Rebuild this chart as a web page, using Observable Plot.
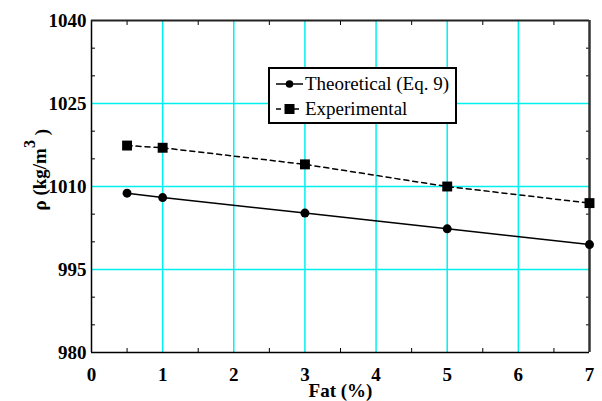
<!DOCTYPE html>
<html><head><meta charset="utf-8">
<script src="https://cdn.jsdelivr.net/npm/d3@7"></script>
<script src="https://cdn.jsdelivr.net/npm/@observablehq/plot@0.6"></script>
<style>
body{margin:0;background:#fff;font-family:"Liberation Serif","Times New Roman",serif;}
#wrap{position:relative;width:602px;height:401px;font-family:"Liberation Serif","Times New Roman",serif;}
#legend{position:absolute;left:268px;top:67px;width:185px;height:53px;border:2px solid #000;background:#fff;font-family:"Liberation Serif","Times New Roman",serif;font-size:19px;line-height:25px;padding:0;color:#000;}
#legend .row{display:flex;align-items:center;height:25px;}
#legend svg{margin-left:6px;margin-right:2px;}
</style></head>
<body><div id="wrap"></div>
<script>
const fat = [0.5, 1, 3, 5, 7];
const theoretical = [1008.8, 1008.0, 1005.2, 1002.35, 999.5];
const experimental = [1017.4, 1017.0, 1014.0, 1010.0, 1007.0];
const xTicks = [0, 1, 2, 3, 4, 5, 6, 7];
const yTicks = [980, 995, 1010, 1025, 1040];
const xMinor = [0.5, 1.5, 2.5, 3.5, 4.5, 5.5, 6.5];
const yMinor = [985, 990, 1000, 1005, 1015, 1020, 1030, 1035];
const seriesNames = ["Theoretical (Eq. 9)", "Experimental"];

const theo = fat.map((x, i) => ({x, y: theoretical[i]}));
const expe = fat.map((x, i) => ({x, y: experimental[i]}));
const grid = "#00f0f0";
const font = "Liberation Serif";

function draw() {
  const chart = Plot.plot({
    width: 602, height: 401,
    marginLeft: 91, marginRight: 13, marginTop: 20, marginBottom: 49,
    style: {fontFamily: font, background: "#fff", overflow: "visible"},
    x: {domain: [0, 7]},
    y: {domain: [980, 1040]},
    marks: [
      Plot.gridX(xTicks.slice(1, -1), {stroke: grid, strokeOpacity: 1, strokeWidth: 1.5}),
      Plot.gridY(yTicks.slice(1, -1), {stroke: grid, strokeOpacity: 1, strokeWidth: 1.5}),
      Plot.axisY(yMinor, {anchor: "left", tickSize: -4, text: null, label: null, stroke: "#000"}),
      Plot.axisY(yMinor, {anchor: "right", tickSize: -4, text: null, label: null, stroke: "#000"}),
      Plot.axisX(xMinor, {anchor: "bottom", tickSize: -4, text: null, label: null, stroke: "#000"}),
      Plot.axisX(xMinor, {anchor: "top", tickSize: -4, text: null, label: null, stroke: "#000"}),
      Plot.axisY(yTicks, {anchor: "left", tickSize: 0, tickPadding: 5, label: null, tickFormat: d => String(d), fontSize: 19, fontWeight: "bold", fill: "#000"}),
      Plot.axisX(xTicks, {anchor: "bottom", tickSize: 0, tickPadding: 15, label: null, tickFormat: d => String(d), fontSize: 19, fontWeight: "bold", fill: "#000"}),
      Plot.ruleX([0], {stroke: "#000", strokeWidth: 1.5}),
      Plot.ruleY([980], {stroke: "#000", strokeWidth: 1.5}),
      Plot.ruleY([1040], {stroke: "#222", strokeWidth: 2}),
      Plot.ruleX([7], {stroke: "#333", strokeWidth: 2.5}),
      Plot.line(theo, {x: "x", y: "y", stroke: "#000", strokeWidth: 1.5}),
      Plot.line(expe, {x: "x", y: "y", stroke: "#000", strokeWidth: 1.5, strokeDasharray: "5,4"}),
      Plot.dot(theo, {x: "x", y: "y", r: 4.5, fill: "#000", stroke: "none"}),
      Plot.dot(expe, {x: "x", y: "y", r: 5.6, symbol: "square", fill: "#000", stroke: "none"}),
      Plot.text(["Fat (%)"], {frameAnchor: "bottom", dy: 44, fontSize: 19, fontWeight: "bold", fill: "#000"}),
      Plot.text(["ρ (kg/m3 )"], {frameAnchor: "left", dx: -52, dy: 24, rotate: -90, textAnchor: "start", fontSize: 19, fontWeight: "bold", fill: "#000", className: "ylab"})
    ]
  });
  d3.select(chart).selectAll(".ylab text").each(function() {
    const t = d3.select(this);
    t.text(null);
    t.append("tspan").text("ρ (kg/m");
    t.append("tspan").attr("dy", "-0.65em").attr("font-size", "16").text("3");
    t.append("tspan").attr("dy", "0.65em").text(" )");
  });
  const wrap = document.getElementById("wrap");
  wrap.innerHTML = "";
  wrap.appendChild(chart);

  const leg = document.createElement("div");
  leg.id = "legend";
  leg.innerHTML = `
<div class="row" style="margin-top:2px"><svg width="27" height="12"><line x1="0" y1="6" x2="27" y2="6" stroke="#000" stroke-width="1.5"/><circle cx="13.5" cy="6" r="3.8" fill="#000"/></svg><span>${seriesNames[0]}</span></div>
<div class="row"><svg width="27" height="12"><line x1="0" y1="6" x2="27" y2="6" stroke="#000" stroke-width="1.5" stroke-dasharray="5,4"/><rect x="8.5" y="1" width="10" height="10" fill="#000"/></svg><span>${seriesNames[1]}</span></div>`;
  wrap.appendChild(leg);
}
draw();
if (document.fonts && document.fonts.ready) document.fonts.ready.then(draw);
</script></body></html>
